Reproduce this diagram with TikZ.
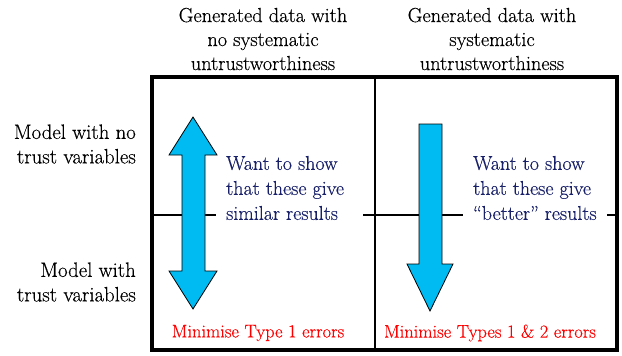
\documentclass[tikz,border=0pt]{standalone}
\usepackage{fontspec}
\setmainfont{Latin Modern Roman}[FakeBold=0.35]
\definecolor{arrowblue}{RGB}{0,186,242}
\definecolor{navytext}{RGB}{24,32,105}
\begin{document}
\begin{tikzpicture}[x=1pt,y=-1pt,
  header/.style={align=center,font=\fontsize{20.3}{24}\selectfont,inner sep=0pt},
  rowlabel/.style={align=right,anchor=east,font=\fontsize{20.8}{24.5}\selectfont,inner sep=0pt},
  claim/.style={align=left,anchor=west,text=navytext,font=\fontsize{20}{25}\selectfont,inner sep=0pt},
  goal/.style={text=red,font=\fontsize{18.4}{22}\selectfont,inner sep=0pt},
  bigarrow/.style={fill=arrowblue,draw=black,line width=0.8pt,line join=miter}]
\useasboundingbox (0,0) rectangle (622,356);

% column headers
\node[header] (h1) at (263,39) {Generated data with\\no systematic\\untrustworthiness};
\node[header] (h2) at (492,39) {Generated data with\\systematic\\untrustworthiness};

% row labels
\node[rowlabel] (r1) at (136,144) {Model with no\\trust variables};
\node[rowlabel] (r2) at (136,282) {Model with\\trust variables};

% horizontal split between the two models
\coordinate (m0) at (150,215);
\coordinate (m1) at (216,215);
\coordinate (m2) at (363,215);
\coordinate (m3) at (463,215);
\coordinate (m4) at (607,215);
\coordinate (m5) at (617,215);
\draw[line width=1.3pt] (m0) -- (m1);
\draw[line width=1.3pt] (m2) -- (m3);
\draw[line width=1.3pt] (m4) -- (m5);

% frame and column divider
\draw[line width=3.2pt] (152,77) rectangle (617,350);
\coordinate (d0) at (375,77);
\coordinate (d1) at (375,350);
\draw[line width=1.8pt] (d0) -- (d1);

% double-headed arrow: similar results
\draw[bigarrow] (193,117) -- (217,155) -- (205,155) -- (205,271) -- (217,271)
  -- (193,309) -- (169,271) -- (182,271) -- (182,155) -- (169,155) -- cycle;

% downward arrow: better results
\draw[bigarrow] (419,124) -- (442,124) -- (442,264) -- (453,264) -- (430,311)
  -- (407,264) -- (419,264) -- cycle;

% claims
\node[claim] (c1) at (226,188) {Want to show\\that these give\\similar results};
\node[claim] (c2) at (473,188) {Want to show\\that these give\\“better” results};

% goals
\node[goal] (g1) at (258,333) {Minimise Type 1 errors};
\node[goal] (g2) at (490,333) {Minimise Types 1 \& 2 errors};
\end{tikzpicture}
\end{document}
